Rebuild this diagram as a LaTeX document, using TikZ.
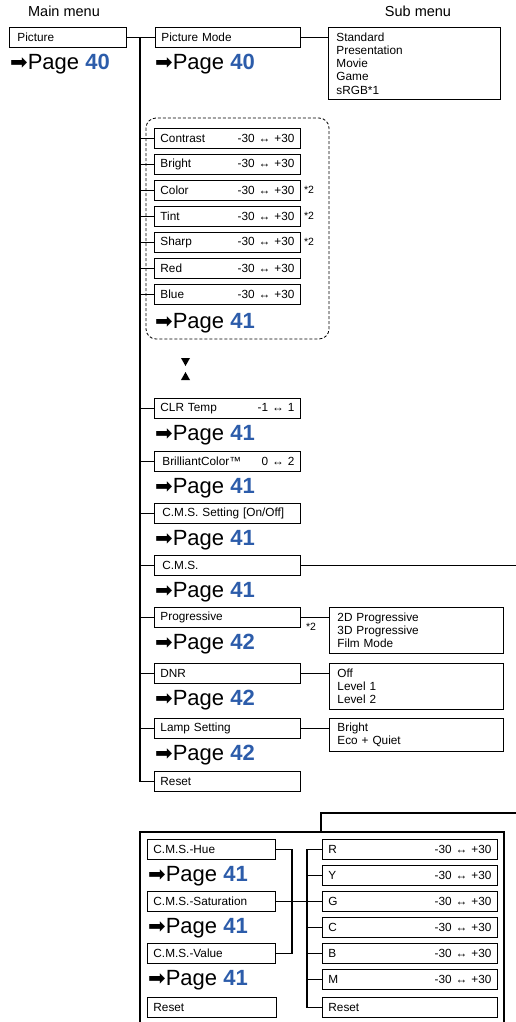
\documentclass[tikz,border=0pt]{standalone}
\usepackage{fontspec}
\setmainfont{Liberation Sans}
\newfontfamily\dejavu{DejaVu Sans}
\definecolor{pgblue}{RGB}{44,92,170}
\newcommand\pgref[1]{{\dejavu\fontsize{21}{21}\selectfont ➡}Page \textbf{\color{pgblue}#1}}
\newcommand\rng[2]{#1 ↔ #2}
\begin{document}
\begin{tikzpicture}[x=1pt,y=-1pt,
  mbox/.style={draw, line width=0.9pt, anchor=north west, minimum height=20pt, inner xsep=6pt, inner ysep=0pt, align=left, font=\fontsize{11.8}{13.5}\selectfont},
  sbox/.style={draw, line width=0.9pt, anchor=north west, inner xsep=8pt, inner ysep=0pt, align=left, font=\fontsize{11.8}{13.3}\selectfont},
  pg/.style={anchor=base west, inner sep=0pt, font=\fontsize{22}{22}\selectfont},
  trunk/.style={line width=1.6pt},
  conn/.style={line width=1.2pt},
  note/.style={font=\fontsize{10.5}{10.5}\selectfont, inner sep=0pt, anchor=west},
  head/.style={font=\fontsize{14.5}{15}\selectfont, inner sep=0pt}]
\useasboundingbox (0,0) rectangle (516,1022);

% headings
\node[head] (hmain) at (64,11) {Main menu};
\node[head] (hsub) at (418,11) {Sub menu};

% top row
\node[mbox, text width=105pt] (pic) at (9,27) {\,Picture};
\node[pg] (pgpic) at ([xshift=1pt,yshift=-22pt]pic.south west) {\pgref{40}};
\node[mbox, text width=133pt] (pm) at (155,27) {Picture Mode};
\node[pg] (pgpm) at ([xshift=0pt,yshift=-22pt]pm.south west) {\pgref{40}};
\node[sbox, text width=156pt, minimum height=72pt] (pmsub) at (328,27) {Standard\\Presentation\\Movie\\Game\\sRGB*1};

% dashed group
\draw[line width=0.8pt, dash pattern=on 3pt off 2pt, rounded corners=10pt] (146,118) rectangle (329,339);
\node[mbox, text width=134pt] (contrast) at (154,128) {Contrast\hfill\rng{-30}{+30}};
\node[mbox, text width=134pt] (bright) at (154,154) {Bright\hfill\rng{-30}{+30}};
\node[mbox, text width=134pt] (color) at (154,180) {Color\hfill\rng{-30}{+30}};
\node[mbox, text width=134pt] (tint) at (154,206) {Tint\hfill\rng{-30}{+30}};
\node[mbox, text width=134pt] (sharp) at (154,232) {Sharp\hfill\rng{-30}{+30}};
\node[mbox, text width=134pt] (red) at (154,258) {Red\hfill\rng{-30}{+30}};
\node[mbox, text width=134pt] (blue) at (154,284) {Blue\hfill\rng{-30}{+30}};
\node[pg] (pgblue) at ([xshift=1pt,yshift=-24pt]blue.south west) {\pgref{41}};
\node[note] (ncolor) at ([xshift=3pt,yshift=1pt]color.east) {*2};
\node[note] (ntint) at ([xshift=3pt,yshift=1pt]tint.east) {*2};
\node[note] (nsharp) at ([xshift=3pt,yshift=1pt]sharp.east) {*2};

% scroll marks
\fill (181,358) -- (190,358) -- (185.5,366) -- cycle;
\fill (181,380) -- (190,380) -- (185.5,372) -- cycle;

% lower items
\node[mbox, text width=134pt] (clr) at (154,398) {CLR Temp\hfill\rng{-1}{1}};
\node[pg] (pgclr) at ([xshift=1pt,yshift=-22pt]clr.south west) {\pgref{41}};
\node[mbox, text width=134pt] (brill) at (154,451) {\,BrilliantColor™\hfill\rng{0}{2}};
\node[pg] (pgbrill) at ([xshift=1pt,yshift=-22pt]brill.south west) {\pgref{41}};
\node[mbox, text width=134pt] (cmsset) at (154,503) {\,C.M.S. Setting [On/Off]};
\node[pg] (pgcmsset) at ([xshift=1pt,yshift=-22pt]cmsset.south west) {\pgref{41}};
\node[mbox, text width=134pt] (cms) at (154,555) {\,C.M.S.};
\node[pg] (pgcms) at ([xshift=1pt,yshift=-22pt]cms.south west) {\pgref{41}};
\node[mbox, text width=134pt] (prog) at (154,607) {Progressive};
\node[pg] (pgprog) at ([xshift=1pt,yshift=-22pt]prog.south west) {\pgref{42}};
\node[note] (nprog) at ([xshift=5pt,yshift=1pt]prog.south east) {*2};
\node[sbox, text width=158pt, minimum height=46pt] (progsub) at (329,607) {2D Progressive\\3D Progressive\\Film Mode};
\node[mbox, text width=134pt] (dnr) at (154,663) {DNR};
\node[pg] (pgdnr) at ([xshift=1pt,yshift=-22pt]dnr.south west) {\pgref{42}};
\node[sbox, text width=158pt, minimum height=46pt] (dnrsub) at (329,663) {Off\\Level 1\\Level 2};
\node[mbox, text width=134pt] (lamp) at (154,718) {Lamp Setting};
\node[pg] (pglamp) at ([xshift=1pt,yshift=-22pt]lamp.south west) {\pgref{42}};
\node[sbox, text width=158pt, minimum height=33pt] (lampsub) at (329,718) {Bright\\Eco + Quiet};
\node[mbox, text width=134pt] (reset) at (154,771) {Reset};

% trunk and connectors
\coordinate (tx) at (140,0);
\coordinate (rx) at (516,0);
\draw[trunk] (pic.east) -- (pm.west);
\draw[trunk] (tx |- pic.east) -- (tx |- reset.west) -- (reset.west);
\foreach \n in {contrast,bright,color,tint,sharp,red,blue,clr,brill,cmsset,cms,prog,dnr,lamp}
  \draw[conn] (tx |- \n.west) -- (\n.west);
\draw[conn] (pm.east) -- (pm.east -| pmsub.west);
\draw[conn] (prog.east) -- (prog.east -| progsub.west);
\draw[conn] (dnr.east) -- (dnr.east -| dnrsub.west);
\draw[conn] (lamp.east) -- (lamp.east -| lampsub.west);
\draw[conn] (cms.east) -- (cms.east -| rx);

% C.M.S. sub menu
\coordinate (cmsin) at (516,813);
\coordinate (cmsdrop) at (321,813);
\coordinate (bigtop) at (321,832);
\draw[conn] (cmsin) -- (cmsdrop) -- (bigtop);
\draw[line width=1.4pt] (140,1030) -- (140,832) -- (504,832) -- (504,1030);

\node[mbox, text width=116pt] (hue) at (147,839) {C.M.S.-Hue};
\node[pg] (pghue) at ([xshift=1pt,yshift=-22pt]hue.south west) {\pgref{41}};
\node[mbox, text width=116pt] (sat) at (147,891) {C.M.S.-Saturation};
\node[pg] (pgsat) at ([xshift=1pt,yshift=-22pt]sat.south west) {\pgref{41}};
\node[mbox, text width=116pt] (val) at (147,943) {C.M.S.-Value};
\node[pg] (pgval) at ([xshift=1pt,yshift=-22pt]val.south west) {\pgref{41}};
\node[mbox, text width=117pt] (reseta) at (147,997) {Reset};

\node[mbox, text width=163pt] (cr) at (322,839) {R\hfill\rng{-30}{+30}};
\node[mbox, text width=163pt] (cy) at (322,865) {Y\hfill\rng{-30}{+30}};
\node[mbox, text width=163pt] (cg) at (322,891) {G\hfill\rng{-30}{+30}};
\node[mbox, text width=163pt] (cc) at (322,917) {C\hfill\rng{-30}{+30}};
\node[mbox, text width=163pt] (cb) at (322,943) {B\hfill\rng{-30}{+30}};
\node[mbox, text width=163pt] (cm) at (322,969) {M\hfill\rng{-30}{+30}};
\node[mbox, text width=163pt] (resetb) at (322,997) {Reset};

\coordinate (hx) at (292,0);
\coordinate (vx) at (307,0);
\draw[conn] (hue.east) -- (hue.east -| hx) -- (val.east -| hx) -- (val.east);
\draw[conn] (sat.east) -- (cg.west);
\draw[conn] (vx |- cr.west) -- (vx |- resetb.west) -- (resetb.west);
\foreach \n in {cr,cy,cc,cb,cm}
  \draw[conn] (vx |- \n.west) -- (\n.west);
\end{tikzpicture}
\end{document}
